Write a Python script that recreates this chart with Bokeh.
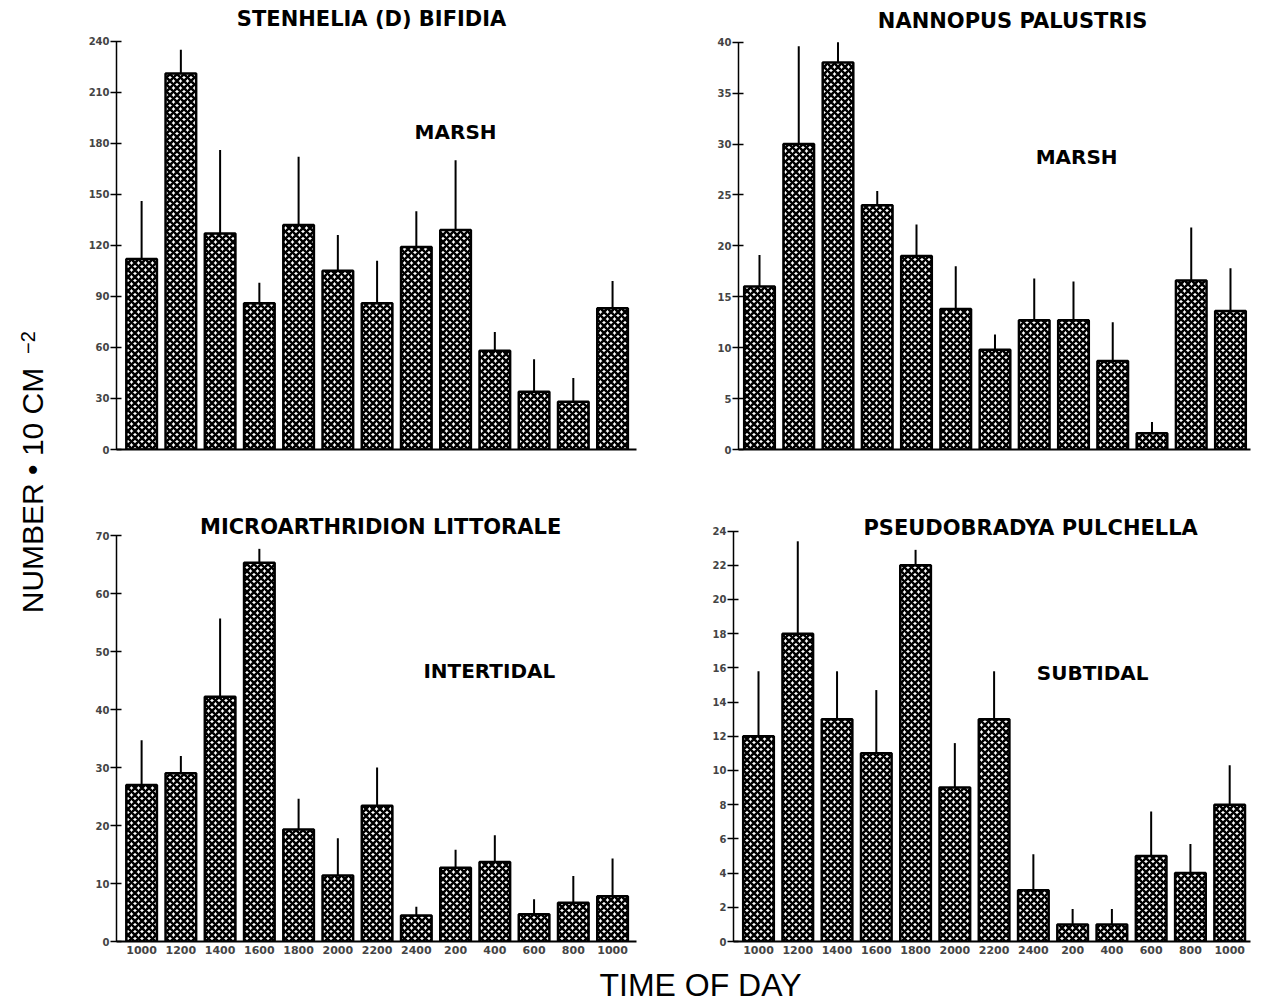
from math import pi
from bokeh.plotting import figure
from bokeh.layouts import row, column
from bokeh.models import Range1d, FixedTicker, Label
from bokeh.embed import file_html
from bokeh.resources import INLINE

# ---------------- data ----------------
times = ["1000", "1200", "1400", "1600", "1800", "2000", "2200",
         "2400", "200", "400", "600", "800", "1000"]

stenhelia_mean = [112, 221, 127, 86, 132, 105, 86, 119, 129, 58, 34, 28, 83]
stenhelia_upper = [146, 235, 176, 98, 172, 126, 111, 140, 170, 69, 53, 42, 99]

nannopus_mean = [16, 30, 38, 24, 19, 13.8, 9.8, 12.7, 12.7, 8.7, 1.6, 16.6, 13.6]
nannopus_upper = [19.1, 39.6, 40, 25.4, 22.1, 18, 11.3, 16.8, 16.5, 12.5, 2.7, 21.8, 17.8]

micro_mean = [27, 29, 42.2, 65.3, 19.3, 11.4, 23.4, 4.5, 12.7, 13.7, 4.7, 6.7, 7.8]
micro_upper = [34.7, 32, 55.7, 67.7, 24.6, 17.8, 30, 6, 15.8, 18.3, 7.3, 11.3, 14.3]

pseudo_mean = [12, 18, 13, 11, 22, 9, 13, 3, 1, 1, 5, 4, 8]
pseudo_upper = [15.8, 23.4, 15.8, 14.7, 22.9, 11.6, 15.8, 5.1, 1.9, 1.9, 7.6, 5.7, 10.3]

titles = ["STENHELIA (D) BIFIDIA", "NANNOPUS PALUSTRIS",
          "MICROARTHRIDION LITTORALE", "PSEUDOBRADYA PULCHELLA"]
habitats = ["MARSH", "MARSH", "INTERTIDAL", "SUBTIDAL"]

y_label = "NUMBER \u2022 10 CM"
y_label_exp = "\u22122"
x_label = "TIME OF DAY"

TITLE_FONT = "DejaVu Sans"
TICK_FONT = "DejaVu Sans"


def panel(title, habitat, mean, upper, ymax, ystep, y_end,
          width, height, bl, br, bb, x_start, x_end, show_x,
          title_xy, hab_xy):
    xs = list(range(len(times)))
    p = figure(width=width, height=height, output_backend="svg",
               toolbar_location=None,
               x_range=Range1d(x_start, x_end), y_range=Range1d(0, y_end),
               min_border_left=bl, min_border_right=br,
               min_border_top=0, min_border_bottom=bb)
    p.outline_line_color = None
    p.xgrid.visible = False
    p.ygrid.visible = False
    p.background_fill_color = "white"

    p.vbar(x=xs, top=mean, bottom=0, width=0.78,
           fill_color="white", line_color="black", line_width=2.5,
           hatch_pattern="diagonal_cross", hatch_color="black",
           hatch_scale=7, hatch_weight=2.6)
    p.segment(x0=xs, y0=mean, x1=xs, y1=upper,
              line_color="black", line_width=2)

    ya = p.yaxis[0]
    ya.bounds = (0, ymax)
    ya.ticker = FixedTicker(ticks=list(range(0, ymax + 1, ystep)))
    ya.minor_tick_line_color = None
    ya.major_tick_in = 5
    ya.major_tick_out = 6
    ya.major_tick_line_width = 1.5
    ya.axis_line_width = 1.5
    ya.major_label_standoff = 1
    ya.major_label_text_font = TICK_FONT
    ya.major_label_text_font_style = "bold"
    ya.major_label_text_font_size = "10px"

    xa = p.xaxis[0]
    xa.axis_line_width = 2
    xa.minor_tick_line_color = None
    xa.major_tick_in = 0
    xa.major_tick_out = 0
    if show_x:
        xa.ticker = FixedTicker(ticks=xs)
        xa.major_label_overrides = {i: t for i, t in zip(xs, times)}
        xa.major_label_standoff = 4
        xa.major_label_text_font = TICK_FONT
        xa.major_label_text_font_style = "bold"
        xa.major_label_text_font_size = "11px"
    else:
        xa.ticker = FixedTicker(ticks=[])

    p.add_layout(Label(x=title_xy[0], y=title_xy[1], text=title,
                       text_align="center", text_baseline="middle",
                       text_font=TITLE_FONT, text_font_style="bold",
                       text_font_size="21px", text_color="black"))
    p.add_layout(Label(x=hab_xy[0], y=hab_xy[1], text=habitat,
                       text_align="center", text_baseline="middle",
                       text_font=TITLE_FONT, text_font_style="bold",
                       text_font_size="20px", text_color="black"))
    return p


# row 1: frames from y=0 to y=449 ; row 2: frames from 490 to 941
p1 = panel(titles[0], habitats[0], stenhelia_mean, stenhelia_upper,
           240, 30, 263.9, 612, 490, 48, 44, 41, -0.64, 12.61, False,
           (5.86, 253.0), (8.0, 186.9))
p2 = panel(titles[1], habitats[1], nannopus_mean, nannopus_upper,
           40, 5, 44.1, 582, 490, 58, 12, 41, -0.535, 12.51, False,
           (6.45, 42.1), (8.08, 28.7))
p3 = panel(titles[2], habitats[2], micro_mean, micro_upper,
           70, 10, 77.76, 612, 475, 48, 44, 24, -0.64, 12.61, True,
           (6.09, 71.4), (8.86, 46.7))
p4 = panel(titles[3], habitats[3], pseudo_mean, pseudo_upper,
           24, 2, 26.37, 582, 475, 53, 12, 24, -0.637, 12.53, True,
           (6.93, 24.2), (8.51, 15.7))


def blank(width, height, xr, yr):
    f = figure(width=width, height=height, output_backend="svg",
               toolbar_location=None, x_range=Range1d(*xr), y_range=Range1d(*yr),
               min_border=0)
    f.axis.visible = False
    f.grid.visible = False
    f.outline_line_color = None
    return f


ylab = blank(68, 1003, (0, 68), (1003, 0))
ylab.add_layout(Label(x=32, y=490, text=y_label, angle=pi / 2,
                      text_align="center", text_baseline="middle",
                      text_font="Liberation Sans", text_font_size="30px",
                      text_color="black"))
ylab.add_layout(Label(x=27, y=342, text=y_label_exp, angle=pi / 2,
                      text_align="center", text_baseline="middle",
                      text_font="Liberation Sans", text_font_size="20px",
                      text_color="black"))

xlab = blank(1194, 38, (68, 1262), (1003, 965))
xlab.add_layout(Label(x=700, y=984, text=x_label,
                      text_align="center", text_baseline="middle",
                      text_font="Liberation Sans", text_font_size="32px",
                      text_color="black"))

layout = row(ylab, column(row(p1, p2), row(p3, p4), xlab))

open("out.html", "w").write(file_html(layout, INLINE))
